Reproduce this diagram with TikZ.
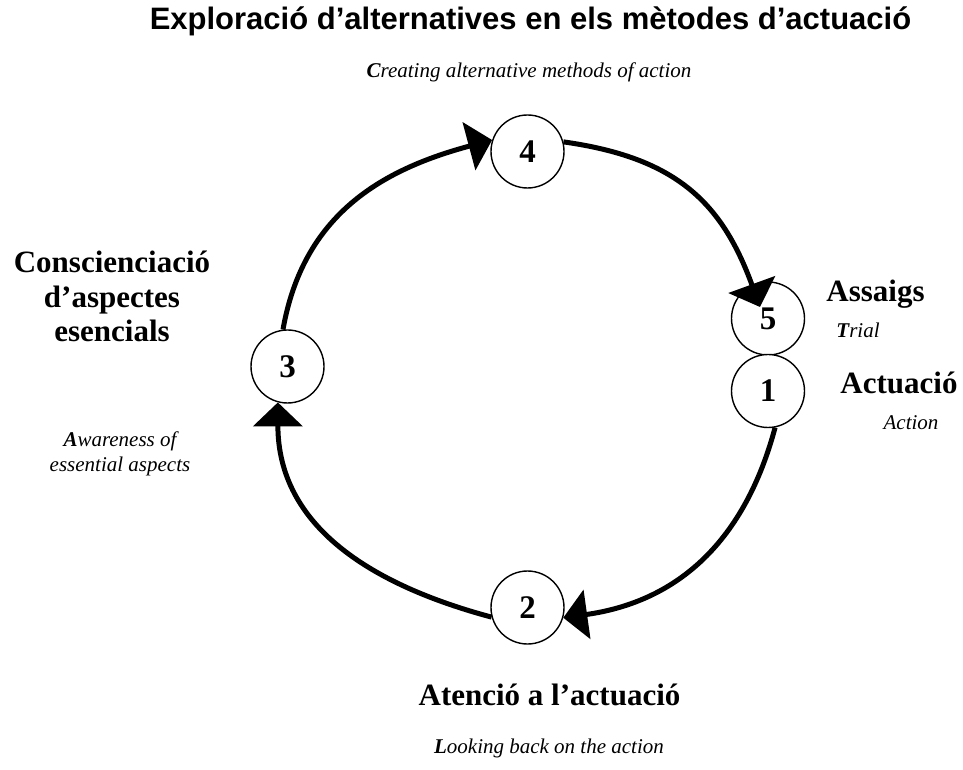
\documentclass[tikz,border=0pt]{standalone}
\usepackage{fontspec}
\setmainfont{Liberation Serif}
\newfontfamily\arialfont{Liberation Sans}
\usetikzlibrary{arrows.meta}
\tikzset{
  stage/.style={circle,draw,line width=1.4pt,minimum size=73pt,inner sep=0pt,fill=white,
    font=\fontsize{33}{33}\selectfont\bfseries},
  cyc/.style={line width=5pt},
  cyca/.style={cyc,-{Triangle[length=24pt,width=49pt]}},
  bigl/.style={inner sep=0pt,align=center,font=\fontsize{31}{34.5}\selectfont\bfseries},
  smalll/.style={inner sep=0pt,align=center,font=\fontsize{21}{25}\selectfont\itshape},
}
\begin{document}
\begin{tikzpicture}[x=1pt,y=1pt]
\useasboundingbox (0,0) rectangle (963,769);
% title
\node[inner sep=0pt,font=\fontsize{31}{31}\selectfont\arialfont\bfseries] (title) at (530.5,748) {Exploració d’alternatives en els mètodes d’actuació};
\node[smalll] (sub) at (529,697) {\textbf{C}reating alternative methods of action};
% stages
\node[stage] (n4) at (527.5,617.5) {4};
\node[stage] (n5) at (768,450.5) {5};
\node[stage] (n1) at (768,378) {1};
\node[stage] (n2) at (527.5,161.5) {2};
\node[stage] (n3) at (287.5,402.5) {3};
\coordinate (t5) at (760,462);
% cycle arcs
\draw[cyca] (n3.97) to[out=80,in=195,looseness=1.05] (n4.162);
\draw[cyca] (n4.15) to[out=-8,in=110,looseness=1.12] (t5);
\draw[cyca] (n1.-79) to[out=-105,in=8,looseness=1.05] (n2.-16);
\draw[cyca] (n2.195) to[out=165,in=-90,looseness=1.05] (n3.255);
% labels
\node[bigl] (l3) at (112,472.5) {Conscienciació\\d’aspectes\\esencials};
\node[smalll] (l3e) at (120,315.5) {\textbf{A}wareness of\\essential aspects};
\node[bigl] (l5) at (875.5,475) {Assaigs};
\node[smalll] (l5e) at (858,439) {\textbf{T}rial};
\node[bigl] (l1) at (899,386) {Actuació};
\node[smalll] (l1e) at (911,346) {Action};
\node[bigl] (l2) at (549.5,74) {Atenció a l’actuació};
\node[smalll] (l2e) at (549,21) {\textbf{L}ooking back on the action};
\end{tikzpicture}
\end{document}
